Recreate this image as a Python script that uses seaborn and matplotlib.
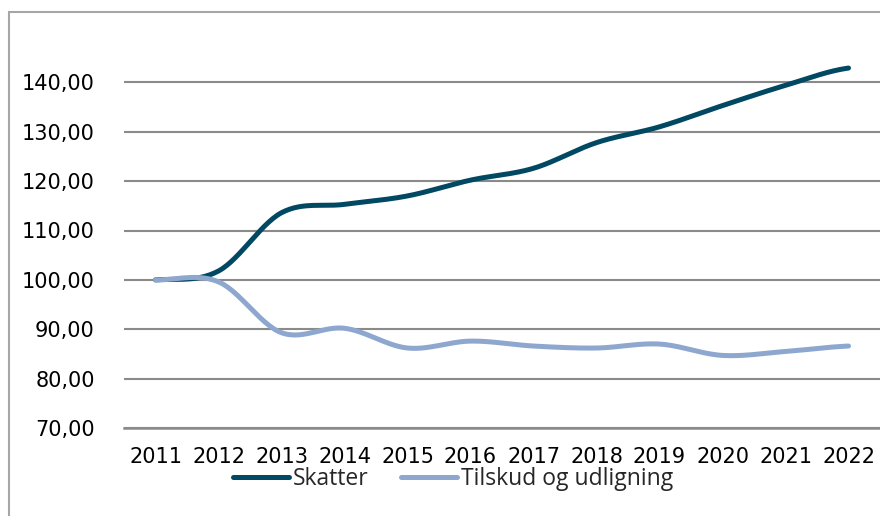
import numpy as np
import pandas as pd
import matplotlib
matplotlib.use('Agg')
import matplotlib.pyplot as plt
import seaborn as sns
from matplotlib.patches import Rectangle
from matplotlib.ticker import FuncFormatter

# Index values (2011 = 100)
years = [2011, 2012, 2013, 2014, 2015, 2016, 2017, 2018, 2019, 2020, 2021, 2022]
skatter = [100.0, 101.8, 113.6, 115.3, 117.0, 120.2, 122.6, 127.8, 131.0, 135.3, 139.4, 142.9]
tilskud = [100.0, 99.6, 89.3, 90.2, 86.2, 87.6, 86.6, 86.2, 87.0, 84.7, 85.5, 86.6]
series_names = ['Skatter', 'Tilskud og udligning']
colors = ['#014862', '#8DA7CE']


def smooth(y, n=30):
    # Catmull-Rom curve through the points, like a smoothed line in Excel
    y = np.asarray(y, dtype=float)
    p = np.concatenate([[y[0]], y, [y[-1]]])
    xs, ys = [], []
    for i in range(len(y) - 1):
        p0, p1, p2, p3 = p[i], p[i + 1], p[i + 2], p[i + 3]
        t = np.linspace(0, 1, n, endpoint=False)
        v = 0.5 * (2 * p1 + (-p0 + p2) * t + (2 * p0 - 5 * p1 + 4 * p2 - p3) * t ** 2
                   + (-p0 + 3 * p1 - 3 * p2 + p3) * t ** 3)
        xs.append(i + t)
        ys.append(v)
    xs.append([len(y) - 1])
    ys.append([y[-1]])
    return np.concatenate(xs), np.concatenate(ys)


frames = []
for name, vals in zip(series_names, [skatter, tilskud]):
    sx, sy = smooth(vals)
    frames.append(pd.DataFrame({'x': sx, 'value': sy, 'serie': name}))
df = pd.concat(frames, ignore_index=True)

sns.set_style('white')
plt.rcParams['font.family'] = ['DejaVu Sans']

fig = plt.figure(figsize=(8.8, 5.16), dpi=100)
ax = fig.add_axes([124 / 880, 1 - 428 / 516, (880 - 124) / 880, (428 - 33) / 516])

sns.lineplot(data=df, x='x', y='value', hue='serie', palette=colors,
             linewidth=3.6, ax=ax, legend=False, sort=False)
for line in ax.lines:
    line.set_solid_capstyle('round')

ax.set_xlim(-0.5, 11.5)
ax.set_ylim(70, 150)
ax.set_yticks(range(70, 141, 10))
ax.yaxis.set_major_formatter(FuncFormatter(lambda v, p: f'{v:.2f}'.replace('.', ',')))
ax.set_xticks(range(len(years)))
ax.set_xticklabels([str(y) for y in years])
ax.tick_params(axis='both', labelsize=15, length=0, colors='black')
ax.tick_params(axis='y', pad=21)
ax.tick_params(axis='x', pad=14)
ax.set_xlabel('')
ax.set_ylabel('')

ax.grid(axis='y', color='#8a8a8a', linewidth=1.5)
ax.set_axisbelow(True)
for s in ['top', 'right', 'left']:
    ax.spines[s].set_visible(False)
ax.spines['bottom'].set_color('#8a8a8a')
ax.spines['bottom'].set_linewidth(1.8)

# legend below the axis
handles = [plt.Line2D([], [], color=c, linewidth=3.6, solid_capstyle='round') for c in colors]
fig.legend(handles, series_names, loc='center', bbox_to_anchor=(453 / 880, 1 - 479 / 516),
           ncol=2, frameon=False, handlelength=2.45, handletextpad=0.18, columnspacing=1.4,
           borderaxespad=0, borderpad=0, prop={'family': 'Open Sans', 'size': 16.5})

# outer chart border
fig.patches.append(Rectangle((9 / 880, -0.1), 1.0, 1 - 12 / 516 + 0.1, transform=fig.transFigure,
                             fill=False, edgecolor='#a6a6a6', linewidth=1.5))

fig.savefig('out.png', dpi=100)
